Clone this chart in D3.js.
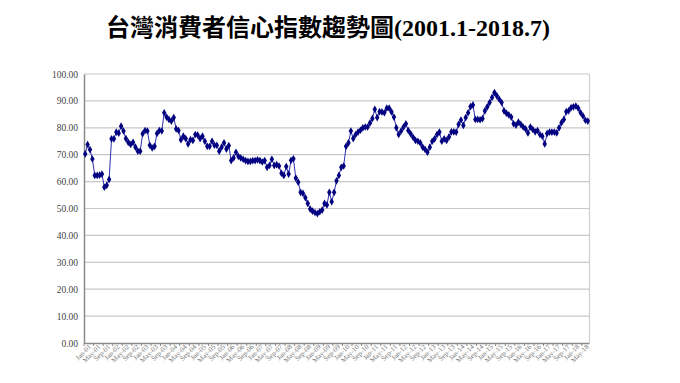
<!DOCTYPE html>
<html>
<head>
<meta charset="utf-8">
<script src="https://cdn.jsdelivr.net/npm/d3@7"></script>
<style>
  body { margin: 0; background: #fff; }
  svg { display: block; }
</style>
</head>
<body>
<svg id="chart"></svg>
<script>
// chart title
var title = "台灣消費者信心指數趨勢圖(2001.1-2018.7)";

// month names used for category labels
var monthNames = ["Jan", "Feb", "Mar", "Apr", "May", "Jun", "Jul", "Aug", "Sep", "Oct", "Nov", "Dec"];

// consumer confidence index, monthly, 2001.1 - 2018.7
var cci = [
  70.3, 73.8, 71.9, 68.4, 62.3, 62.3, 62.4, 62.8, 57.9, 58.6,
  60.8, 75.9, 75.9, 78.4, 78.0, 80.6, 78.8, 76.0, 74.6, 73.8,
  74.6, 72.8, 71.3, 71.3, 77.8, 79.0, 78.8, 73.5, 72.5, 73.1,
  77.9, 79.0, 78.8, 85.6, 84.0, 83.1, 82.5, 83.8, 79.6, 79.0,
  75.6, 76.9, 76.0, 74.0, 75.6, 75.3, 77.5, 77.3, 76.0, 76.9,
  75.0, 73.1, 73.1, 75.0, 73.5, 73.5, 71.3, 72.8, 74.4, 72.1,
  73.4, 67.8, 68.8, 70.9, 69.4, 68.8, 68.3, 67.8, 67.5, 67.5,
  67.8, 67.8, 68.1, 67.8, 67.3, 67.8, 65.3, 66.0, 68.3, 66.0,
  66.3, 65.8, 63.1, 62.3, 65.6, 62.8, 67.9, 68.5, 61.3, 59.8,
  56.0, 55.6, 54.0, 51.9, 49.8, 49.0, 48.5, 48.1, 48.8, 49.4,
  51.9, 51.3, 56.0, 52.5, 56.0, 60.3, 62.3, 65.3, 65.8, 73.1,
  74.4, 78.8, 76.0, 77.5, 78.4, 79.1, 80.0, 80.3, 80.3, 81.8,
  83.5, 86.9, 83.8, 86.0, 85.9, 85.6, 87.3, 87.3, 85.9, 84.0,
  80.0, 77.5, 78.8, 80.3, 81.5, 79.0, 77.8, 76.5, 75.3, 75.0,
  74.4, 72.8, 72.0, 70.9, 72.8, 75.0, 75.9, 77.5, 78.4, 75.0,
  75.9, 75.3, 76.6, 78.5, 78.5, 78.4, 81.3, 82.9, 80.9, 83.8,
  85.6, 87.9, 88.5, 83.1, 83.1, 83.0, 83.4, 86.3, 87.8, 89.4,
  91.3, 93.1, 91.9, 90.6, 89.4, 86.3, 85.4, 84.8, 84.0, 81.5,
  81.0, 82.1, 81.3, 80.3, 79.6, 78.1, 80.3, 79.4, 78.5, 79.0,
  77.5, 76.9, 74.0, 77.9, 78.4, 78.4, 78.4, 78.1, 80.0, 81.9,
  83.1, 86.0, 86.3, 87.5, 87.8, 88.1, 87.3, 85.6, 84.4, 82.8,
  82.5
];

// y axis ticks
var yTicks = [0, 10, 20, 30, 40, 50, 60, 70, 80, 90, 100];

// categories like "Jan-01", one for every month
var months = cci.map(function(d, i) {
  var yr = 1 + Math.floor(i / 12);
  return monthNames[i % 12] + "-" + (yr < 10 ? "0" + yr : "" + yr);
});
// only every 4th month gets a label
var labelEvery = 4;

var W = 680, H = 383;
var margin = { left: 84, right: 91, top: 74, bottom: 40 };

var svg = d3.select("#chart").attr("width", W).attr("height", H);

var x = d3.scaleBand().domain(months).range([margin.left, W - margin.right]).padding(0);
var y = d3.scaleLinear().domain([0, 100]).range([H - margin.bottom, margin.top]);

// title
svg.append("text")
  .attr("x", 328).attr("y", 36)
  .attr("text-anchor", "middle")
  .style("font-family", "'Liberation Serif', 'Noto Sans CJK TC', serif")
  .style("font-weight", "bold")
  .style("font-size", "24px")
  .style("fill", "#000")
  .text(title);

// gridlines
svg.append("g").selectAll("line").data(yTicks.slice(1)).enter()
  .append("line")
  .attr("x1", margin.left).attr("x2", W - margin.right)
  .attr("y1", function(d) { return y(d); }).attr("y2", function(d) { return y(d); })
  .attr("stroke", "#c8c8c8").attr("stroke-width", 1.2);

// right border
svg.append("line")
  .attr("x1", W - margin.right + 0.5).attr("x2", W - margin.right + 0.5)
  .attr("y1", y(100)).attr("y2", y(0))
  .attr("stroke", "#cfcfcf").attr("stroke-width", 1.2);

// y axis
var yAxis = svg.append("g")
  .attr("transform", "translate(" + margin.left + ",0)")
  .call(d3.axisLeft(y).tickValues(yTicks).tickSize(0).tickPadding(6)
    .tickFormat(d3.format(".2f")));
yAxis.select(".domain").attr("stroke", "#8a8a8a").attr("stroke-width", 1.5);
yAxis.selectAll("text")
  .style("font-family", "'Liberation Serif', serif")
  .style("font-size", "9.5px")
  .style("fill", "#444");

// x axis, labels every 4th month
var xAxis = svg.append("g")
  .attr("transform", "translate(0," + y(0) + ")")
  .call(d3.axisBottom(x)
    .tickValues(months.filter(function(d, i) { return i % labelEvery === 0; }))
    .tickSize(0).tickPadding(4));
xAxis.select(".domain").attr("stroke", "#8a8a8a").attr("stroke-width", 1.5);
xAxis.selectAll("text")
  .style("font-family", "'Liberation Serif', serif")
  .style("font-size", "7px")
  .style("fill", "#777")
  .attr("text-anchor", "end")
  .attr("dx", "0.2em").attr("dy", "0.5em")
  .attr("transform", "rotate(-45)");

// tick marks at category boundaries
var tickIdx = months.map(function(d, i) { return i; }).filter(function(i) { return i % labelEvery === 0; });
svg.append("g").selectAll("line").data(tickIdx).enter()
  .append("line")
  .attr("x1", function(i) { return x(months[i]); })
  .attr("x2", function(i) { return x(months[i]); })
  .attr("y1", y(0)).attr("y2", y(0) + 3)
  .attr("stroke", "#8a8a8a").attr("stroke-width", 1);

// the series line
var cx = function(d, i) { return x(months[i]) + x.bandwidth() / 2; };
var line = d3.line().x(cx).y(function(d) { return y(d); });
svg.append("path")
  .datum(cci)
  .attr("fill", "none")
  .attr("stroke", "#3030b0")
  .attr("stroke-width", 1)
  .attr("d", line);

// diamond markers
svg.append("g").selectAll("path").data(cci).enter()
  .append("path")
  .attr("transform", function(d, i) { return "translate(" + cx(d, i) + "," + y(d) + ")"; })
  .attr("d", d3.symbol().type(d3.symbolDiamond).size(17))
  .attr("fill", "#000080");
</script>
</body>
</html>
